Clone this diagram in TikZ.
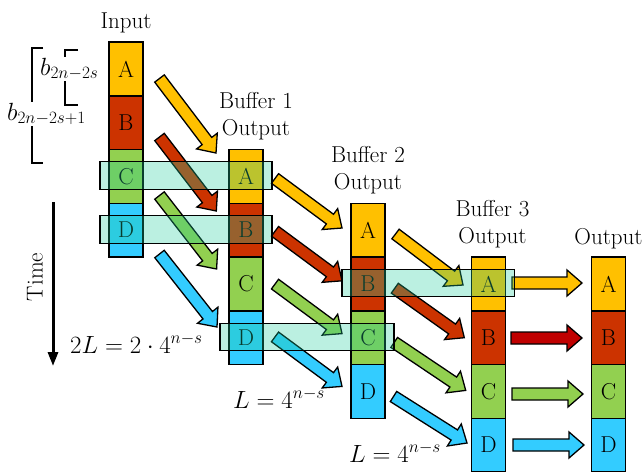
\documentclass[tikz,border=0pt]{standalone}
\usepackage{amsmath,amssymb}
\usepackage{xcolor}
\usepackage{tikz}
\usetikzlibrary{shapes,arrows,positioning,calc,arrows.meta}
\DeclareMathSizes{23}{23}{17}{13}

\definecolor{segA}{RGB}{255,192,0}
\definecolor{segB}{RGB}{204,51,0}
\definecolor{segC}{RGB}{146,208,80}
\definecolor{segD}{RGB}{51,204,255}
\definecolor{segBdark}{RGB}{192,0,0}
\definecolor{hilite}{RGB}{30,205,155}

% block arrow from tail (#2) to tip (#3)
\newcommand{\flowarrow}[3]{%
  \coordinate (ft) at (#2);
  \coordinate (fh) at (#3);
  \coordinate (fb) at ($(fh)!15pt!(ft)$);
  \draw[flow, fill=#1] ($(ft)!6pt!90:(fh)$) -- ($(fb)!6pt!-90:(ft)$) -- ($(fb)!13pt!-90:(ft)$) -- (fh)
    -- ($(fb)!13pt!90:(ft)$) -- ($(fb)!6pt!90:(ft)$) -- ($(ft)!6pt!-90:(fh)$) -- cycle;}

\begin{document}
\begin{tikzpicture}[x=1pt, y=-1pt, font=\fontsize{23}{27}\selectfont,
    seg/.style={draw, line width=1.5pt, minimum width=34pt, minimum height=53.75pt, inner sep=0pt, outer sep=0pt},
    flow/.style={draw=black, line width=1.3pt, line join=miter},
    hl/.style={draw=black, line width=1.2pt, fill=hilite, fill opacity=0.3},
    brk/.style={line width=1.3pt},
    lbl/.style={align=center, anchor=south, inner sep=0pt}]
    \useasboundingbox (0,0) rectangle (644,471);

    % titles
    \node[anchor=base] (lin) at (126,28) {Input};
    \node[lbl] (lb1) at (256,140.5) {Buffer 1\\Output};
    \node[lbl] (lb2) at (368,194.5) {Buffer 2\\Output};
    \node[lbl] (lb3) at (492.5,248.5) {Buffer 3\\Output};
    \node[anchor=base] (lout) at (608.5,244) {Output};

    % bit brackets
    \draw[brk] (43,48) -- (32,48) -- (32,163) -- (43,163);
    \node[fill=white, inner sep=1pt, anchor=base west] (blarge) at (6,120) {$b_{2n-2s+1}$};
    \draw[brk] (78,50) -- (65,50) -- (65,105) -- (78,105);
    \node[fill=white, inner sep=1pt, anchor=base west] (bsmall) at (39,75) {$b_{2n-2s}$};

    % time axis
    \coordinate (tt) at (53,202);
    \coordinate (tb) at (53,366);
    \draw[line width=3pt, -{Triangle[length=14pt,width=10pt]}] (tt) -- (tb);
    \node[rotate=90] (time) at (35,277) {Time};

    % delay lengths
    \node[anchor=base west, inner sep=0pt] (len1) at (70,353) {$2L = 2\cdot 4^{n-s}$};
    \node[anchor=base west, inner sep=0pt] (len2) at (233,408) {$L = 4^{n-s}$};
    \node[anchor=base west, inner sep=0pt] (len3) at (349,462) {$L = 4^{n-s}$};

    % Input
    \node[seg, fill=segA] (inA) at (126,68.875) {A};
    \node[seg, fill=segB] (inB) at (126,122.625) {B};
    \node[seg, fill=segC] (inC) at (126,176.375) {C};
    \node[seg, fill=segD] (inD) at (126,230.125) {D};

    % Buffer 1
    \node[seg, fill=segA] (b1A) at (246,176.375) {A};
    \node[seg, fill=segB] (b1B) at (246,230.125) {B};
    \node[seg, fill=segC] (b1C) at (246,283.875) {C};
    \node[seg, fill=segD] (b1D) at (246,337.625) {D};

    % Buffer 2
    \node[seg, fill=segA] (b2A) at (368,230.125) {A};
    \node[seg, fill=segB] (b2B) at (368,283.875) {B};
    \node[seg, fill=segC] (b2C) at (368,337.625) {C};
    \node[seg, fill=segD] (b2D) at (368,391.375) {D};

    % Buffer 3
    \node[seg, fill=segA] (b3A) at (488.5,283.875) {A};
    \node[seg, fill=segB] (b3B) at (488.5,337.625) {B};
    \node[seg, fill=segC] (b3C) at (488.5,391.375) {C};
    \node[seg, fill=segD] (b3D) at (488.5,445.125) {D};

    % Output
    \node[seg, fill=segA] (outA) at (608.5,283.875) {A};
    \node[seg, fill=segB] (outB) at (608.5,337.625) {B};
    \node[seg, fill=segC] (outC) at (608.5,391.375) {C};
    \node[seg, fill=segD] (outD) at (608.5,445.125) {D};

    % Input -> Buffer 1
    \flowarrow{segA}{159.5,78.5}{216,153}
    \flowarrow{segB}{159.5,137}{216.3,211}
    \flowarrow{segC}{159.5,195.5}{216.6,269}
    \flowarrow{segD}{159.5,254}{217,327}
    % Buffer 1 -> Buffer 2
    \flowarrow{segA}{275,178.5}{342,228}
    \flowarrow{segB}{275,231.3}{342,280.8}
    \flowarrow{segC}{275,284.1}{342,333.6}
    \flowarrow{segD}{275,336.9}{342,386.4}
    % Buffer 2 -> Buffer 3
    \flowarrow{segA}{395.5,234}{463,285}
    \flowarrow{segB}{394.8,288.2}{464.3,337.7}
    \flowarrow{segC}{394.2,342.4}{465.7,390.4}
    \flowarrow{segD}{393.5,396.5}{467,443}
    % Buffer 3 -> Output
    \flowarrow{segA}{512,283}{582,283}
    \flowarrow{segBdark}{511,338}{582,338}
    \flowarrow{segC}{512,394}{583,394}
    \flowarrow{segD}{513,445}{584,445}

    % pairs read out together
    \draw[hl] ($(inC.west)+(-9,-14.5)$) rectangle ($(b1A.east)+(9,13)$);
    \draw[hl] ($(inD.west)+(-9,-14.5)$) rectangle ($(b1B.east)+(9,13)$);
    \draw[hl] ($(b1D.west)+(-9,-14.5)$) rectangle ($(b2C.east)+(9,13)$);
    \draw[hl] ($(b2B.west)+(-9,-14.5)$) rectangle ($(b3A.east)+(9,13)$);
\end{tikzpicture}
\end{document}
